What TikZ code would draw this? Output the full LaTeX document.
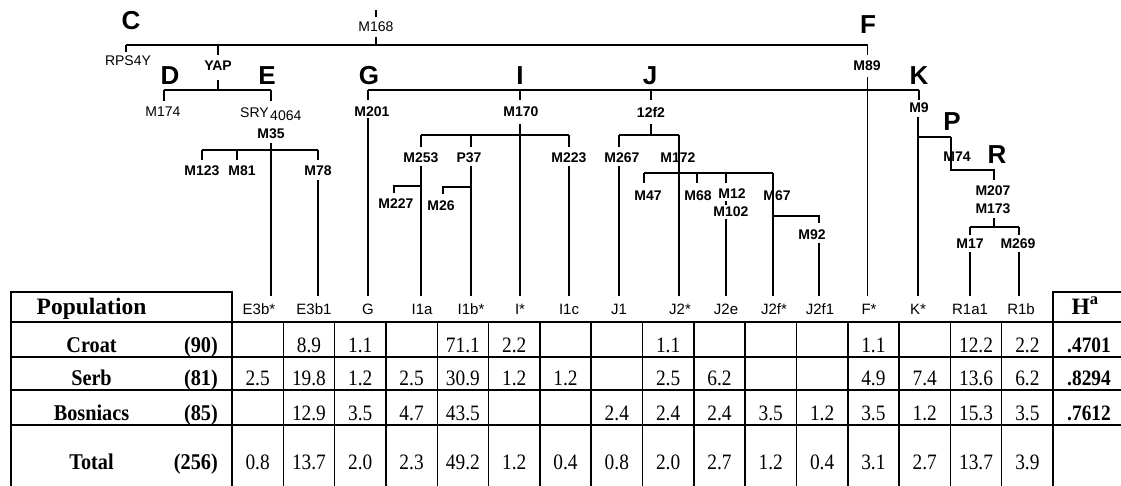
\documentclass[tikz,border=0pt]{standalone}
\usepackage{fontspec}
\setmainfont{Liberation Serif}
\newfontfamily\hvfont{Liberation Sans}
\newfontfamily\numfont[FakeStretch=0.88]{Liberation Serif}
\newfontfamily\rowfont[FakeStretch=0.9]{Liberation Serif}
\begin{document}
\begin{tikzpicture}[x=1pt,y=-1pt,
  tree/.style={line width=1.2pt},
  tab/.style={line width=1.5pt},
  big/.style={font=\hvfont\bfseries\fontsize{26}{28}\selectfont,inner sep=0pt},
  mk/.style={font=\hvfont\bfseries\fontsize{14}{16}\selectfont,inner sep=0pt},
  mkr/.style={font=\hvfont\fontsize{14}{16}\selectfont,inner sep=0pt},
  hg/.style={font=\hvfont\fontsize{15}{17}\selectfont,anchor=base,inner sep=0pt},
  num/.style={font=\numfont\fontsize{22}{24}\selectfont,anchor=base,inner sep=0pt},
  hnum/.style={font=\numfont\bfseries\fontsize{22}{24}\selectfont,anchor=base,inner sep=0pt},
  rl/.style={font=\rowfont\bfseries\fontsize{22.5}{24}\selectfont,anchor=base,inner sep=0pt}]
\useasboundingbox (0,0) rectangle (1121,485);

% ---------- top level C / F ----------
\node[big] (C) at (131,21) {C};
\node[big] (F) at (868,25) {F};
\node[mkr] (m168) at (376,27) {M168};
\coordinate (m168t) at (376,10); \coordinate (m168a) at (376,17);
\coordinate (m168b) at (376,37); \coordinate (root) at (376,45);
\coordinate (cL) at (126,45); \coordinate (fR) at (867.5,45);
\draw[tree] (m168t) -- (m168a);
\draw[tree] (m168b) -- (root);
\draw[tree] (cL) -- (fR);
\coordinate (rpsB) at (126,52);
\draw[tree] (cL) -- (rpsB);
\node[mkr] (rps) at (128,61) {RPS4Y};

% ---------- YAP / D / E ----------
\coordinate (yapT) at (218,45); \coordinate (yapA) at (218,55);
\node[mk] (yap) at (218,66) {YAP};
\coordinate (yapB) at (218,80); \coordinate (deM) at (218,90);
\draw[tree] (yapT) -- (yapA);
\draw[tree] (yapB) -- (deM);
\coordinate (dL) at (164,90); \coordinate (eR) at (271,90);
\draw[tree] (dL) -- (eR);
\node[big] (D) at (170,76) {D};
\node[big] (E) at (267,76) {E};
\coordinate (dB) at (164,101); \coordinate (eB) at (271,101);
\draw[tree] (dL) -- (dB);
\draw[tree] (eR) -- (eB);
\node[mkr] (m174) at (163,112) {M174};
\node[mkr,anchor=base west] (sry) at (240,117) {SRY\hspace{1.5pt}\raisebox{-3pt}{4064}};
\node[mk] (m35) at (271,134) {M35};
\coordinate (m35B) at (271,143); \coordinate (leafE3bs) at (271,296);
\draw[tree] (m35B) -- (leafE3bs);
\coordinate (m35L) at (202,150); \coordinate (m35M) at (237,150); \coordinate (m35R) at (318,150);
\draw[tree] (m35L) -- (m35R);
\coordinate (m123t) at (202,160); \coordinate (m81t) at (237,160); \coordinate (m78t) at (318,160);
\draw[tree] (m35L) -- (m123t);
\draw[tree] (m35M) -- (m81t);
\draw[tree] (m35R) -- (m78t);
\node[mk] (m123) at (202,171) {M123};
\node[mk] (m81) at (242,171) {M81};
\node[mk] (m78) at (318,171) {M78};
\coordinate (m78B) at (318,180); \coordinate (leafE3b1) at (318,296);
\draw[tree] (m78B) -- (leafE3b1);

% ---------- G ... K line ----------
\coordinate (gL) at (368,90); \coordinate (kR) at (919,90);
\draw[tree] (gL) -- (kR);
\node[big] (G) at (369,76) {G};
\node[big] (I) at (520,76) {I};
\node[big] (J) at (650,76) {J};
\node[big] (K) at (919,76) {K};

% G
\coordinate (gT) at (368,100);
\draw[tree] (gL) -- (gT);
\node[mk] (m201) at (372,112) {M201};
\coordinate (m201B) at (368,118); \coordinate (leafG) at (368,296);
\draw[tree] (m201B) -- (leafG);

% I
\coordinate (iA) at (520,90); \coordinate (iT) at (520,100);
\draw[tree] (iA) -- (iT);
\node[mk] (m170) at (521,112) {M170};
\coordinate (m170B) at (520,124); \coordinate (leafIs) at (520,296);
\draw[tree] (m170B) -- (leafIs);
\coordinate (iL) at (421,135); \coordinate (iP) at (471,135); \coordinate (iR) at (569,135);
\draw[tree] (iL) -- (iR);
\coordinate (m253t) at (421,147); \coordinate (p37t) at (471,147); \coordinate (m223t) at (569,147);
\draw[tree] (iL) -- (m253t);
\draw[tree] (iP) -- (p37t);
\draw[tree] (iR) -- (m223t);
\node[mk] (m253) at (421,158) {M253};
\node[mk] (p37) at (469,158) {P37};
\node[mk] (m223) at (569,158) {M223};
\coordinate (m253B) at (421,166); \coordinate (leafIa) at (421,296);
\draw[tree] (m253B) -- (leafIa);
\coordinate (m227j) at (421,186); \coordinate (m227c) at (394,186); \coordinate (m227t) at (394,193);
\draw[tree] (m227j) -- (m227c) -- (m227t);
\node[mk] (m227) at (396,204) {M227};
\coordinate (p37B) at (471,166); \coordinate (leafIbs) at (471,296);
\draw[tree] (p37B) -- (leafIbs);
\coordinate (m26j) at (471,187); \coordinate (m26c) at (443,187); \coordinate (m26t) at (443,194);
\draw[tree] (m26j) -- (m26c) -- (m26t);
\node[mk] (m26) at (441,206) {M26};
\coordinate (m223B) at (569,166); \coordinate (leafIc) at (569,296);
\draw[tree] (m223B) -- (leafIc);

% J
\coordinate (jA) at (651,90); \coordinate (jT) at (651,100);
\draw[tree] (jA) -- (jT);
\node[mk] (j12f2) at (651,112) {12f2};
\coordinate (j12B) at (651,124); \coordinate (jM) at (651,135);
\draw[tree] (j12B) -- (jM);
\coordinate (jL) at (619,135); \coordinate (jR) at (679,135);
\draw[tree] (jL) -- (jR);
\coordinate (m267t) at (619,147);
\draw[tree] (jL) -- (m267t);
\node[mk] (m267) at (622,158) {M267};
\coordinate (m267B) at (619,166); \coordinate (leafJa) at (619,296);
\draw[tree] (m267B) -- (leafJa);
\node[mk] (m172) at (678,158) {M172};
\coordinate (leafJ2s) at (679,296);
\draw[tree] (jR) -- (leafJ2s);
\coordinate (m172L) at (644,173); \coordinate (m172a) at (697,173);
\coordinate (m172b) at (726,173); \coordinate (m172R) at (773,173);
\draw[tree] (m172L) -- (m172R);
\coordinate (m47t) at (644,183); \coordinate (m68t) at (697,183); \coordinate (m12t) at (726,183);
\draw[tree] (m172L) -- (m47t);
\draw[tree] (m172a) -- (m68t);
\draw[tree] (m172b) -- (m12t);
\node[mk] (m47) at (648,196) {M47};
\node[mk] (m68) at (698,196) {M68};
\node[mk] (m12) at (732,194) {M12};
\node[mk] (m102) at (731,212) {M102};
\coordinate (m12a) at (726,201); \coordinate (m12b) at (726,205);
\draw[tree] (m12a) -- (m12b);
\coordinate (m102B) at (726,219); \coordinate (leafJ2e) at (726,296);
\draw[tree] (m102B) -- (leafJ2e);
\node[mk] (m67) at (777,196) {M67};
\coordinate (leafJ2fs) at (773,296);
\draw[tree] (m172R) -- (leafJ2fs);
\coordinate (m92j) at (773,216); \coordinate (m92c) at (819,216); \coordinate (m92t) at (819,223);
\draw[tree] (m92j) -- (m92c) -- (m92t);
\node[mk] (m92) at (812,235) {M92};
\coordinate (m92B) at (819,243); \coordinate (leafJ2f1) at (819,296);
\draw[tree] (m92B) -- (leafJ2f1);

% F
\coordinate (fT) at (867.5,55);
\draw[tree] (fR) -- (fT);
\node[mk] (m89) at (867,66) {M89};
\coordinate (m89B) at (867.5,77); \coordinate (leafFs) at (867.5,296);
\draw[tree] (m89B) -- (leafFs);

% K / P / R
\coordinate (kT) at (919,100);
\draw[tree] (kR) -- (kT);
\node[mk] (m9) at (919,108) {M9};
\coordinate (m9B) at (918,117); \coordinate (leafKs) at (918,296);
\draw[tree] (m9B) -- (leafKs);
\coordinate (pJ) at (918,137); \coordinate (pR) at (951,137);
\draw[tree] (pJ) -- (pR);
\node[big] (P) at (952,122) {P};
\node[mk] (m74) at (957,157) {M74};
\coordinate (m74B) at (951,170); \coordinate (rR) at (994,170); \coordinate (rT) at (994,180);
\draw[tree] (pR) -- (m74B) -- (rR) -- (rT);
\node[big] (R) at (997,155) {R};
\node[mk] (m207) at (993,191) {M207};
\node[mk] (m173) at (993,209) {M173};
\coordinate (m173B) at (994,218); \coordinate (rM) at (994,227);
\draw[tree] (m173B) -- (rM);
\coordinate (rL) at (970,227); \coordinate (rRR) at (1019,227);
\draw[tree] (rL) -- (rRR);
\coordinate (m17t) at (970,235); \coordinate (m269t) at (1019,235);
\draw[tree] (rL) -- (m17t);
\draw[tree] (rRR) -- (m269t);
\node[mk] (m17) at (970,244) {M17};
\node[mk] (m269) at (1018,244) {M269};
\coordinate (m17B) at (970,252); \coordinate (leafR1a1) at (970,296);
\coordinate (m269B) at (1019,252); \coordinate (leafR1b) at (1019,296);
\draw[tree] (m17B) -- (leafR1a1);
\draw[tree] (m269B) -- (leafR1b);

% ---------- header labels ----------
\node[hg] (hE3bs) at (259,314.5) {E3b*};
\node[hg] (hE3b1) at (314,314.5) {E3b1};
\node[hg] (hG) at (368,314.5) {G};
\node[hg] (hI1a) at (422,314.5) {I1a};
\node[hg] (hI1bs) at (471,314.5) {I1b*};
\node[hg] (hIs) at (520,314.5) {I*};
\node[hg] (hI1c) at (569,314.5) {I1c};
\node[hg] (hJ1) at (619,314.5) {J1};
\node[hg] (hJ2s) at (680,314.5) {J2*};
\node[hg] (hJ2e) at (726,314.5) {J2e};
\node[hg] (hJ2fs) at (774,314.5) {J2f*};
\node[hg] (hJ2f1) at (820,314.5) {J2f1};
\node[hg] (hFs) at (869,314.5) {F*};
\node[hg] (hKs) at (918,314.5) {K*};
\node[hg] (hR1a1) at (970,314.5) {R1a1};
\node[hg] (hR1b) at (1021,314.5) {R1b};

% ---------- table ----------
\draw[tab] (11,487) -- (11,292) -- (232,292) -- (232,487);
\draw[tab] (1053,487) -- (1053,292) -- (1123,292);
\foreach \yy in {322,357,390,425} \draw[tab] (11,\yy) -- (1123,\yy);
\foreach \k in {1,...,15} \draw[tab] ({232+51.3125*\k},322) -- ({232+51.3125*\k},487);

\node[font=\bfseries\fontsize{23.5}{25}\selectfont,anchor=base,inner sep=0pt] (pop) at (91.5,314) {Population};
\node[font=\bfseries\fontsize{23.5}{25}\selectfont,anchor=base,inner sep=0pt] (hH) at (1085,314) {H\textsuperscript{a}};

\node[rl] (croat) at (91.5,352.5) {Croat};
\node[rl] (serb) at (91.5,385) {Serb};
\node[rl] (bos) at (91.5,420.5) {Bosniacs};
\node[rl] (tot) at (91.5,469.5) {Total};
\node[rl,anchor=base east] (ncroat) at (218,352.5) {(90)};
\node[rl,anchor=base east] (nserb) at (218,385) {(81)};
\node[rl,anchor=base east] (nbos) at (218,420.5) {(85)};
\node[rl,anchor=base east] (ntot) at (218,469.5) {(256)};

\foreach \v [count=\c] in {{},8.9,1.1,{},71.1,2.2,{},{},1.1,{},{},{},1.1,{},12.2,2.2}
  \node[num] (a\c) at ({206.34+51.3125*\c},352.5) {\v};
\foreach \v [count=\c] in {2.5,19.8,1.2,2.5,30.9,1.2,1.2,{},2.5,6.2,{},{},4.9,7.4,13.6,6.2}
  \node[num] (b\c) at ({206.34+51.3125*\c},385) {\v};
\foreach \v [count=\c] in {{},12.9,3.5,4.7,43.5,{},{},2.4,2.4,2.4,3.5,1.2,3.5,1.2,15.3,3.5}
  \node[num] (d\c) at ({206.34+51.3125*\c},420.5) {\v};
\foreach \v [count=\c] in {0.8,13.7,2.0,2.3,49.2,1.2,0.4,0.8,2.0,2.7,1.2,0.4,3.1,2.7,13.7,3.9}
  \node[num] (t\c) at ({206.34+51.3125*\c},469.5) {\v};

\node[hnum] (hc) at (1089,352.5) {.4701};
\node[hnum] (hs) at (1089,385) {.8294};
\node[hnum] (hb) at (1089,420.5) {.7612};
\end{tikzpicture}
\end{document}
